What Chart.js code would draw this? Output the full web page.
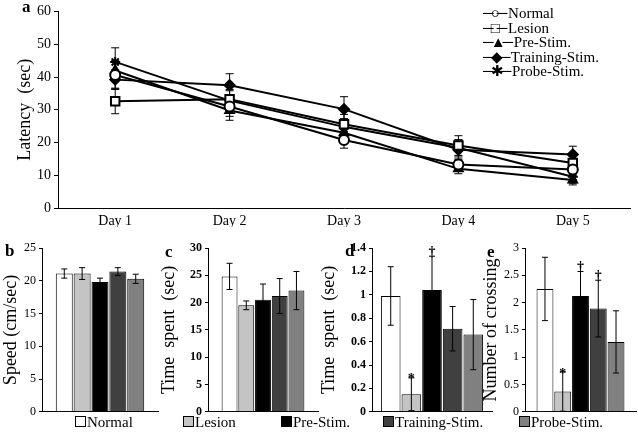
<!DOCTYPE html>
<html>
<head>
<meta charset="utf-8">
<script src="https://cdn.jsdelivr.net/npm/chart.js@4"></script>
<style>
body { margin: 0; background: #fff; }
#wrap { position: relative; width: 638px; height: 434px; font-family: "Liberation Serif", serif; color: #000; }
canvas { position: absolute; }
.lab { position: absolute; font-weight: bold; font-size: 17px; }
#legA { position: absolute; left: 483px; top: 6px; font-size: 15px; line-height: 14.5px; }
#legB { position: absolute; left: 0; top: 414px; width: 638px; font-size: 15px; }
#legB span { position: absolute; white-space: nowrap; }
#legB i { display: inline-block; width: 9px; height: 9px; border: 1px solid #000; margin-right: 1px; }
</style>
</head>
<body>
<div id="wrap">
  <canvas id="chartA" style="left:0;top:0" width="638" height="227"></canvas>
  <canvas id="chartB" style="left:0;top:236px" width="160" height="186"></canvas>
  <canvas id="chartC" style="left:158px;top:236px" width="162" height="186"></canvas>
  <canvas id="chartD" style="left:318px;top:236px" width="176" height="186"></canvas>
  <canvas id="chartE" style="left:480px;top:236px" width="158" height="186"></canvas>
  <div class="lab" style="left:22px;top:-3px">a</div>
  <div class="lab" style="left:5px;top:241px">b</div>
  <div class="lab" style="left:165px;top:242px">c</div>
  <div class="lab" style="left:345px;top:241px">d</div>
  <div class="lab" style="left:487px;top:242px">e</div>
  <div id="legA"></div>
  <div id="legB"></div>
</div>
<script>
const days = ['Day 1', 'Day 2', 'Day 3', 'Day 4', 'Day 5'];
const groups = ['Normal', 'Lesion', 'Pre-Stim.', 'Training-Stim.', 'Probe-Stim.'];

// panel a: latency (sec) per day, mean and error
const normal = [40.6, 31.0, 20.8, 13.3, 11.8];
const normalErr = [4.0, 3.0, 2.5, 2.0, 2.0];
const lesion = [32.6, 33.2, 25.6, 19.1, 13.8];
const lesionErr = [3.8, 3.0, 3.0, 3.0, 2.0];
const preStim = [42.0, 29.8, 23.0, 12.0, 8.6];
const preStimErr = [3.0, 3.0, 2.0, 1.5, 1.5];
const trainingStim = [39.2, 37.5, 30.2, 17.8, 16.4];
const trainingStimErr = [3.0, 3.5, 3.8, 3.0, 2.5];
const probeStim = [44.6, 32.8, 24.8, 18.4, 9.6];
const probeStimErr = [4.3, 3.0, 2.5, 2.5, 2.0];

// panels b-e: one value per group
const speed = [21.1, 21.1, 19.8, 21.4, 20.3];
const speedErr = [0.7, 0.9, 0.6, 0.6, 0.7];
const timeQuad = [24.8, 19.5, 20.5, 21.2, 22.2];
const timeQuadErr = [2.4, 0.8, 2.9, 3.2, 3.5];
const timePlat = [0.99, 0.15, 1.04, 0.71, 0.66];
const timePlatErr = [0.25, 0.14, 0.29, 0.19, 0.30];
const timePlatMarks = ['', '*', '†', '', ''];
const crossing = [2.25, 0.37, 2.12, 1.89, 1.28];
const crossingErr = [0.58, 0.36, 0.45, 0.52, 0.57];
const crossingMarks = ['', '*', '†', '†', ''];

const fills = ['#ffffff', '#c4c4c4', '#000000', '#404040', '#808080'];
const serif = 'Liberation Serif';

const errorBars = {
  id: 'errorBars',
  draw(chart) {
    const ctx = chart.ctx;
    const y = chart.scales.y;
    const cap = chart.options.plugins.errorBars.cap;
    chart.data.datasets.forEach((ds, i) => {
      if (!ds.errors) return;
      const meta = chart.getDatasetMeta(i);
      meta.data.forEach((el, j) => {
        const v = ds.data[j], e = ds.errors[j];
        const top = y.getPixelForValue(v + e);
        const bot = y.getPixelForValue(v - e);
        ctx.save();
        ctx.strokeStyle = '#000';
        ctx.lineWidth = 1;
        ctx.beginPath();
        ctx.moveTo(el.x, top); ctx.lineTo(el.x, bot);
        ctx.moveTo(el.x - cap, top); ctx.lineTo(el.x + cap, top);
        ctx.moveTo(el.x - cap, bot); ctx.lineTo(el.x + cap, bot);
        ctx.stroke();
        if (ds.marks && ds.marks[j]) {
          ctx.fillStyle = '#000';
          ctx.font = 'bold 14px ' + serif;
          ctx.textAlign = 'center';
          ctx.textBaseline = 'bottom';
          ctx.fillText(ds.marks[j], el.x, top + (ds.marks[j] === '*' ? 9 : 3));
        }
        ctx.restore();
      });
    });
  },
  beforeDatasetsDraw(chart) { if (chart.config.type === 'line') this.draw(chart); },
  afterDatasetsDraw(chart) { if (chart.config.type === 'bar') this.draw(chart); }
};

const plainTick = v => String(+v.toFixed(2));

// panel a
const lineSets = [
  [normal, normalErr, 'circle', '#fff'],
  [lesion, lesionErr, 'rect', '#fff'],
  [preStim, preStimErr, 'triangle', '#000'],
  [trainingStim, trainingStimErr, 'rectRot', '#000'],
  [probeStim, probeStimErr, 'star', '#000']
];
new Chart(document.getElementById('chartA'), {
  type: 'line',
  data: {
    labels: days,
    datasets: lineSets.map((s, k) => ({
      label: groups[k],
      data: s[0],
      errors: s[1],
      borderColor: '#000',
      borderWidth: 2,
      pointStyle: s[2],
      pointBackgroundColor: s[3],
      pointBorderColor: '#000',
      pointBorderWidth: 2,
      pointRadius: s[2] === 'rect' ? 6 : 5,
      tension: 0
    }))
  },
  options: {
    responsive: false,
    animation: false,
    layout: { padding: { top: 4, right: 8, left: 14 } },
    plugins: { legend: { display: false }, tooltip: { enabled: false }, errorBars: { cap: 4 } },
    scales: {
      x: {
        offset: true,
        grid: { display: false },
        border: { color: '#000', width: 1 },
        ticks: { color: '#000', font: { family: serif, size: 14 }, padding: -3 }
      },
      y: {
        min: 0, max: 60,
        afterFit(s) { s.width = 44; },
        grid: { drawOnChartArea: false, tickLength: 4, color: '#000' },
        border: { color: '#000', width: 1 },
        ticks: { stepSize: 10, color: '#000', font: { family: serif, size: 14 }, padding: 3 },
        title: { display: true, text: 'Latency  (sec)', color: '#000', font: { family: serif, size: 18 }, padding: 0 }
      }
    }
  },
  plugins: [errorBars]
});

function barPanel(id, vals, errs, marks, max, step, title, axisW, cp, boldTicks) {
  new Chart(document.getElementById(id), {
    type: 'bar',
    data: {
      labels: [''],
      datasets: groups.map((g, k) => ({
        label: g,
        data: [vals[k]],
        errors: [errs[k]],
        marks: marks ? [marks[k]] : null,
        backgroundColor: fills[k],
        borderColor: '#000',
        borderWidth: 1
      }))
    },
    options: {
      responsive: false,
      animation: false,
      layout: { padding: { top: 12, right: 2, bottom: 0 } },
      datasets: { bar: { categoryPercentage: cp, barPercentage: 0.95 } },
      plugins: { legend: { display: false }, tooltip: { enabled: false }, errorBars: { cap: 3 } },
      scales: {
        x: {
          grid: { display: false },
          border: { color: '#000', width: 1 },
          ticks: { display: false }
        },
        y: {
          min: 0, max: max,
          afterFit(s) { s.width = axisW; },
          grid: { drawOnChartArea: false, tickLength: 3, color: '#000' },
          border: { color: '#000', width: 1 },
          ticks: { stepSize: step, color: '#000', padding: 3, callback: plainTick,
                   font: { family: serif, size: 12, weight: boldTicks ? 'bold' : 'normal' } },
          title: { display: true, text: title, color: '#000', font: { family: serif, size: 18 }, padding: 0 }
        }
      }
    },
    plugins: [errorBars]
  });
}

barPanel('chartB', speed, speedErr, null, 25, 5, 'Speed (cm/sec)', 42, 0.77, false);
barPanel('chartC', timeQuad, timeQuadErr, null, 30, 5, 'Time  spent  (sec)', 50, 0.76, true);
barPanel('chartD', timePlat, timePlatErr, timePlatMarks, 1.4, 0.2, 'Time  spent  (sec)', 54, 0.86, true);
barPanel('chartE', crossing, crossingErr, crossingMarks, 3, 0.5, 'Number of crossing', 45, 0.8, false);

// legends
const legA = document.getElementById('legA');
const legSyms = ['○', '□', '▲', '◆', '✱'];
groups.forEach((g, k) => {
  const d = document.createElement('div');
  d.innerHTML = '<span style="letter-spacing:-3px">─' + legSyms[k] + '─</span> ' + g;
  legA.appendChild(d);
});
const legB = document.getElementById('legB');
const legX = [75, 183, 281, 383, 519];
groups.forEach((g, k) => {
  const s = document.createElement('span');
  s.style.left = legX[k] + 'px';
  s.innerHTML = '<i style="background:' + fills[k] + '"></i>' + g;
  legB.appendChild(s);
});
</script>
</body>
</html>
